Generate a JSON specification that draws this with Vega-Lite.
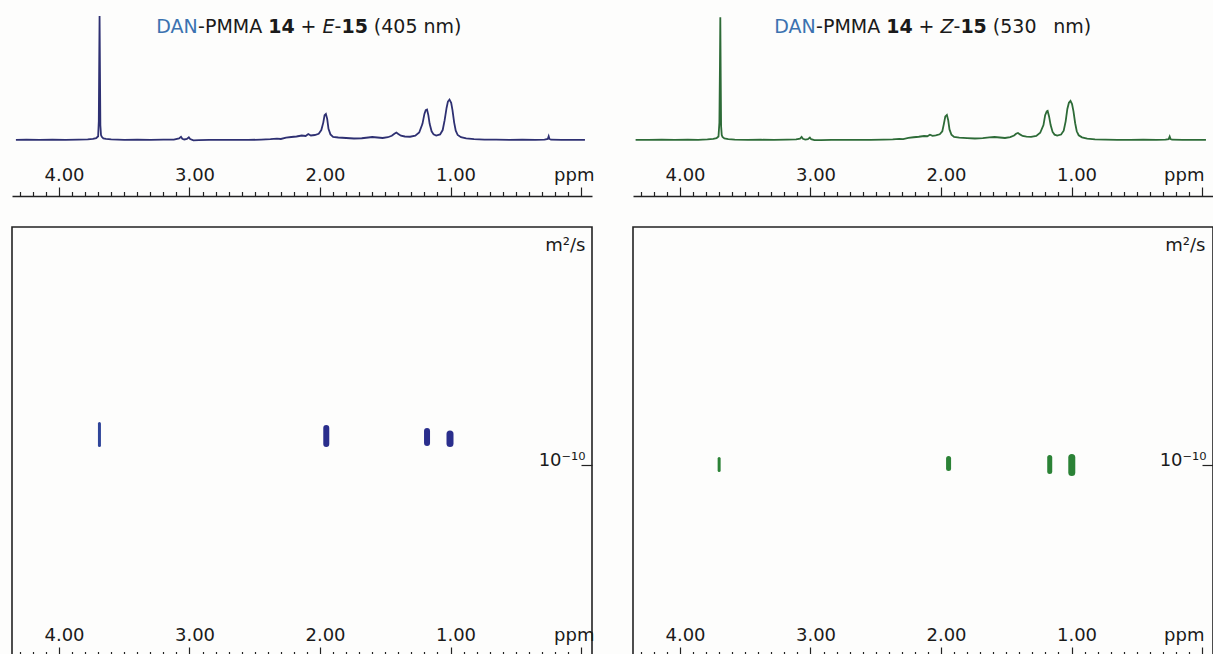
{
  "$schema": "https://vega.github.io/schema/vega-lite/v6.json",
  "background": "#fdfdfc",
  "padding": {"left": 11, "top": 0, "right": 0, "bottom": 0},
  "columns": 2,
  "spacing": {"row": 31, "column": 41},
  "bounds": "flush",
  "datasets": {
    "specL": [
      {"ppm":4.33,"intensity":0},{"ppm":4.25,"intensity":0.2},{"ppm":4.15,"intensity":0},{"ppm":4.05,"intensity":0.2},{"ppm":3.95,"intensity":0},{"ppm":3.85,"intensity":0.3},{"ppm":3.78,"intensity":0.4},{"ppm":3.74,"intensity":0.8},{"ppm":3.715,"intensity":1.5},{"ppm":3.70,"intensity":3},{"ppm":3.695,"intensity":15},{"ppm":3.692,"intensity":60},{"ppm":3.689,"intensity":100},{"ppm":3.686,"intensity":55},{"ppm":3.683,"intensity":12},{"ppm":3.678,"intensity":4},{"ppm":3.672,"intensity":2.5},{"ppm":3.66,"intensity":1.2},{"ppm":3.64,"intensity":0.8},{"ppm":3.60,"intensity":0.4},{"ppm":3.50,"intensity":0.1},{"ppm":3.40,"intensity":0.3},{"ppm":3.30,"intensity":0},{"ppm":3.20,"intensity":0.2},{"ppm":3.12,"intensity":0.3},{"ppm":3.08,"intensity":1.2},{"ppm":3.065,"intensity":2.6},{"ppm":3.055,"intensity":1.0},{"ppm":3.04,"intensity":0.4},{"ppm":3.02,"intensity":0.8},{"ppm":3.005,"intensity":2.2},{"ppm":2.995,"intensity":0.8},{"ppm":2.97,"intensity":-0.3},{"ppm":2.93,"intensity":-0.2},{"ppm":2.85,"intensity":0.1},{"ppm":2.75,"intensity":0},{"ppm":2.65,"intensity":0.1},{"ppm":2.55,"intensity":0},{"ppm":2.45,"intensity":0.3},{"ppm":2.38,"intensity":0.6},{"ppm":2.33,"intensity":1.0},{"ppm":2.30,"intensity":0.8},{"ppm":2.26,"intensity":1.8},{"ppm":2.22,"intensity":2.4},{"ppm":2.18,"intensity":2.8},{"ppm":2.14,"intensity":3.6},{"ppm":2.11,"intensity":3.2},{"ppm":2.09,"intensity":4.8},{"ppm":2.07,"intensity":3.6},{"ppm":2.04,"intensity":4.0},{"ppm":2.01,"intensity":5.0},{"ppm":1.99,"intensity":8},{"ppm":1.975,"intensity":14},{"ppm":1.965,"intensity":20},{"ppm":1.955,"intensity":21},{"ppm":1.945,"intensity":17},{"ppm":1.935,"intensity":9},{"ppm":1.92,"intensity":4.5},{"ppm":1.90,"intensity":2.5},{"ppm":1.86,"intensity":2.0},{"ppm":1.80,"intensity":1.6},{"ppm":1.74,"intensity":1.2},{"ppm":1.68,"intensity":1.4},{"ppm":1.63,"intensity":2.0},{"ppm":1.60,"intensity":2.4},{"ppm":1.56,"intensity":2.0},{"ppm":1.52,"intensity":1.6},{"ppm":1.48,"intensity":2.2},{"ppm":1.45,"intensity":3.4},{"ppm":1.43,"intensity":5.0},{"ppm":1.415,"intensity":6.0},{"ppm":1.40,"intensity":4.8},{"ppm":1.38,"intensity":3.4},{"ppm":1.35,"intensity":2.8},{"ppm":1.31,"intensity":2.6},{"ppm":1.27,"intensity":3.4},{"ppm":1.24,"intensity":6},{"ppm":1.215,"intensity":13},{"ppm":1.20,"intensity":21},{"ppm":1.19,"intensity":24},{"ppm":1.18,"intensity":24.5},{"ppm":1.17,"intensity":20},{"ppm":1.16,"intensity":13},{"ppm":1.145,"intensity":7},{"ppm":1.13,"intensity":4.5},{"ppm":1.11,"intensity":3.6},{"ppm":1.08,"intensity":4.5},{"ppm":1.06,"intensity":8},{"ppm":1.045,"intensity":16},{"ppm":1.03,"intensity":26},{"ppm":1.02,"intensity":31},{"ppm":1.008,"intensity":32.5},{"ppm":0.995,"intensity":30},{"ppm":0.985,"intensity":24},{"ppm":0.972,"intensity":14},{"ppm":0.96,"intensity":7.5},{"ppm":0.945,"intensity":4},{"ppm":0.92,"intensity":2.2},{"ppm":0.88,"intensity":1.2},{"ppm":0.82,"intensity":0.6},{"ppm":0.74,"intensity":0.3},{"ppm":0.65,"intensity":0.2},{"ppm":0.55,"intensity":0},{"ppm":0.45,"intensity":0.2},{"ppm":0.35,"intensity":0},{"ppm":0.28,"intensity":0.3},{"ppm":0.255,"intensity":0.8},{"ppm":0.248,"intensity":3},{"ppm":0.242,"intensity":0.8},{"ppm":0.23,"intensity":0.2},{"ppm":0.15,"intensity":0},{"ppm":0.05,"intensity":0.1},{"ppm":-0.03,"intensity":0}
    ],
    "specR": [
      {"ppm":4.34,"intensity":0},{"ppm":4.24,"intensity":0.1},{"ppm":4.14,"intensity":0.2},{"ppm":4.04,"intensity":0},{"ppm":3.94,"intensity":0.2},{"ppm":3.86,"intensity":0.1},{"ppm":3.79,"intensity":0.4},{"ppm":3.745,"intensity":0.8},{"ppm":3.72,"intensity":1.4},{"ppm":3.705,"intensity":2.8},{"ppm":3.698,"intensity":14},{"ppm":3.694,"intensity":58},{"ppm":3.691,"intensity":99},{"ppm":3.688,"intensity":52},{"ppm":3.685,"intensity":11},{"ppm":3.68,"intensity":4},{"ppm":3.674,"intensity":2.4},{"ppm":3.66,"intensity":1.2},{"ppm":3.63,"intensity":0.7},{"ppm":3.58,"intensity":0.3},{"ppm":3.48,"intensity":0.1},{"ppm":3.38,"intensity":0.2},{"ppm":3.28,"intensity":0},{"ppm":3.18,"intensity":0.2},{"ppm":3.11,"intensity":0.4},{"ppm":3.08,"intensity":1.0},{"ppm":3.068,"intensity":2.4},{"ppm":3.058,"intensity":0.9},{"ppm":3.04,"intensity":0.3},{"ppm":3.02,"intensity":0.7},{"ppm":3.005,"intensity":2.0},{"ppm":2.995,"intensity":0.6},{"ppm":2.97,"intensity":-0.2},{"ppm":2.92,"intensity":-0.1},{"ppm":2.84,"intensity":0.1},{"ppm":2.74,"intensity":0},{"ppm":2.64,"intensity":0.1},{"ppm":2.54,"intensity":0},{"ppm":2.44,"intensity":0.2},{"ppm":2.37,"intensity":0.5},{"ppm":2.32,"intensity":0.9},{"ppm":2.29,"intensity":0.7},{"ppm":2.25,"intensity":1.6},{"ppm":2.21,"intensity":2.2},{"ppm":2.17,"intensity":2.6},{"ppm":2.13,"intensity":3.2},{"ppm":2.105,"intensity":3.0},{"ppm":2.085,"intensity":4.2},{"ppm":2.065,"intensity":3.3},{"ppm":2.04,"intensity":3.7},{"ppm":2.01,"intensity":4.6},{"ppm":1.99,"intensity":7},{"ppm":1.978,"intensity":13},{"ppm":1.967,"intensity":19},{"ppm":1.955,"intensity":20.2},{"ppm":1.945,"intensity":16},{"ppm":1.935,"intensity":8.5},{"ppm":1.92,"intensity":4.2},{"ppm":1.90,"intensity":2.4},{"ppm":1.86,"intensity":1.9},{"ppm":1.80,"intensity":1.5},{"ppm":1.74,"intensity":1.2},{"ppm":1.68,"intensity":1.5},{"ppm":1.63,"intensity":2.1},{"ppm":1.59,"intensity":2.4},{"ppm":1.55,"intensity":2.0},{"ppm":1.51,"intensity":1.6},{"ppm":1.47,"intensity":2.3},{"ppm":1.44,"intensity":3.6},{"ppm":1.425,"intensity":5.0},{"ppm":1.41,"intensity":5.6},{"ppm":1.395,"intensity":4.5},{"ppm":1.375,"intensity":3.2},{"ppm":1.345,"intensity":2.7},{"ppm":1.31,"intensity":2.5},{"ppm":1.27,"intensity":3.3},{"ppm":1.24,"intensity":5.8},{"ppm":1.215,"intensity":12},{"ppm":1.202,"intensity":20},{"ppm":1.19,"intensity":23},{"ppm":1.183,"intensity":23.4},{"ppm":1.172,"intensity":19},{"ppm":1.16,"intensity":12},{"ppm":1.145,"intensity":6.5},{"ppm":1.13,"intensity":4.3},{"ppm":1.11,"intensity":3.5},{"ppm":1.08,"intensity":4.4},{"ppm":1.06,"intensity":7.5},{"ppm":1.045,"intensity":15},{"ppm":1.032,"intensity":25},{"ppm":1.02,"intensity":30},{"ppm":1.008,"intensity":31.5},{"ppm":0.996,"intensity":29},{"ppm":0.985,"intensity":23},{"ppm":0.972,"intensity":13.5},{"ppm":0.96,"intensity":7},{"ppm":0.945,"intensity":3.8},{"ppm":0.92,"intensity":2.1},{"ppm":0.88,"intensity":1.1},{"ppm":0.82,"intensity":0.5},{"ppm":0.74,"intensity":0.3},{"ppm":0.65,"intensity":0.1},{"ppm":0.55,"intensity":0},{"ppm":0.45,"intensity":0.2},{"ppm":0.35,"intensity":0},{"ppm":0.28,"intensity":0.2},{"ppm":0.256,"intensity":0.7},{"ppm":0.248,"intensity":2.8},{"ppm":0.241,"intensity":0.7},{"ppm":0.23,"intensity":0.2},{"ppm":0.15,"intensity":0},{"ppm":0.05,"intensity":0.1},{"ppm":-0.03,"intensity":0}
    ],
    "dosyL": [
      {"ppm":3.69,"d_high":1.563e-10,"d_low":1.234e-10},
      {"ppm":1.952,"d_high":1.489e-10,"d_low":1.254e-10},
      {"ppm":1.18,"d_high":1.442e-10,"d_low":1.268e-10},
      {"ppm":1.004,"d_high":1.396e-10,"d_low":1.262e-10}
    ],
    "dosyR": [
      {"ppm":3.70,"d_high":1.073e-10,"d_low":0.944e-10},
      {"ppm":1.942,"d_high":1.073e-10,"d_low":0.964e-10},
      {"ppm":1.167,"d_high":1.084e-10,"d_low":0.933e-10},
      {"ppm":0.998,"d_high":1.084e-10,"d_low":0.923e-10}
    ]
  },
  "concat": [
    {
      "width": 580, "height": 196,
      "view": {"stroke": null},
      "resolve": {"axis": {"x": "independent"}},
      "layer": [
        {
          "data": {"name": "specL"},
          "mark": {"type": "line", "color": "#2e3072", "strokeWidth": 1.8},
          "encoding": {
            "x": {"field": "ppm", "type": "quantitative", "scale": {"domain": [-0.084, 4.36], "reverse": true, "nice": false, "zero": false},
              "axis": {"orient": "bottom", "values": [4, 3, 2, 1, 0], "labelExpr": "datum.value == 0 ? '' : format(datum.value, '.2f')", "tickSize": -9, "labelPadding": -12, "labelBaseline": "middle", "labelAlign": "center", "labelOffset": 5, "labelFlush": false, "labelOverlap": false, "title": "ppm", "titleX": 582, "titleY": -21, "titleAlign": "right", "titleBaseline": "middle"}},
            "y": {"field": "intensity", "type": "quantitative", "scale": {"domain": [-45.2, 112.9], "nice": false, "zero": false}, "axis": null}
          }
        },
        {
          "data": {"values": [{}]},
          "mark": {"type": "point", "opacity": 0},
          "encoding": {
            "x": {"datum": 2, "type": "quantitative", "axis": {"orient": "bottom", "values": [4.3,4.2,4.1,3.9,3.8,3.7,3.6,3.5,3.4,3.3,3.2,3.1,2.9,2.8,2.7,2.6,2.5,2.4,2.3,2.2,2.1,1.9,1.8,1.7,1.6,1.5,1.4,1.3,1.2,1.1,0.9,0.8,0.7,0.6,0.5,0.4,0.3,0.2,0.1], "labels": false, "tickSize": -4.5, "domain": false, "title": null}}
          }
        },
        {"data": {"values": [{}]}, "mark": {"type": "text", "text": "DAN", "align": "left", "baseline": "alphabetic", "fontSize": 19, "color": "#3b72b0"}, "encoding": {"x": {"datum": 3.2544, "type": "quantitative", "axis": null}, "y": {"datum": 86, "type": "quantitative", "axis": null}}},
        {"data": {"values": [{}]}, "mark": {"type": "text", "text": "-PMMA", "align": "left", "baseline": "alphabetic", "fontSize": 19, "color": "#1a1a1a"}, "encoding": {"x": {"datum": 2.9341, "type": "quantitative", "axis": null}, "y": {"datum": 86, "type": "quantitative", "axis": null}}},
        {"data": {"values": [{}]}, "mark": {"type": "text", "text": "14", "align": "left", "baseline": "alphabetic", "fontSize": 19, "fontWeight": "bold", "color": "#1a1a1a"}, "encoding": {"x": {"datum": 2.3969, "type": "quantitative", "axis": null}, "y": {"datum": 86, "type": "quantitative", "axis": null}}},
        {"data": {"values": [{}]}, "mark": {"type": "text", "text": "+", "align": "left", "baseline": "alphabetic", "fontSize": 19, "color": "#1a1a1a"}, "encoding": {"x": {"datum": 2.1487, "type": "quantitative", "axis": null}, "y": {"datum": 86, "type": "quantitative", "axis": null}}},
        {"data": {"values": [{}]}, "mark": {"type": "text", "text": "E", "align": "left", "baseline": "alphabetic", "fontSize": 19, "fontStyle": "italic", "color": "#1a1a1a"}, "encoding": {"x": {"datum": 1.9808, "type": "quantitative", "axis": null}, "y": {"datum": 86, "type": "quantitative", "axis": null}}},
        {"data": {"values": [{}]}, "mark": {"type": "text", "text": "-", "align": "left", "baseline": "alphabetic", "fontSize": 19, "color": "#1a1a1a"}, "encoding": {"x": {"datum": 1.8889, "type": "quantitative", "axis": null}, "y": {"datum": 86, "type": "quantitative", "axis": null}}},
        {"data": {"values": [{}]}, "mark": {"type": "text", "text": "15", "align": "left", "baseline": "alphabetic", "fontSize": 19, "fontWeight": "bold", "color": "#1a1a1a"}, "encoding": {"x": {"datum": 1.836, "type": "quantitative", "axis": null}, "y": {"datum": 86, "type": "quantitative", "axis": null}}},
        {"data": {"values": [{}]}, "mark": {"type": "text", "text": "(405 nm)", "align": "left", "baseline": "alphabetic", "fontSize": 19, "color": "#1a1a1a"}, "encoding": {"x": {"datum": 1.5877, "type": "quantitative", "axis": null}, "y": {"datum": 86, "type": "quantitative", "axis": null}}}
      ]
    },
    {
      "width": 580, "height": 196,
      "view": {"stroke": null},
      "resolve": {"axis": {"x": "independent"}},
      "layer": [
        {
          "data": {"name": "specR"},
          "mark": {"type": "line", "color": "#2d6b37", "strokeWidth": 1.8},
          "encoding": {
            "x": {"field": "ppm", "type": "quantitative", "scale": {"domain": [-0.084, 4.36], "reverse": true, "nice": false, "zero": false},
              "axis": {"orient": "bottom", "values": [4, 3, 2, 1, 0], "labelExpr": "datum.value == 0 ? '' : format(datum.value, '.2f')", "tickSize": -9, "labelPadding": -12, "labelBaseline": "middle", "labelAlign": "center", "labelOffset": 5, "labelFlush": false, "labelOverlap": false, "title": "ppm", "titleX": 571, "titleY": -21, "titleAlign": "right", "titleBaseline": "middle"}},
            "y": {"field": "intensity", "type": "quantitative", "scale": {"domain": [-45.2, 112.9], "nice": false, "zero": false}, "axis": null}
          }
        },
        {
          "data": {"values": [{}]},
          "mark": {"type": "point", "opacity": 0},
          "encoding": {
            "x": {"datum": 2, "type": "quantitative", "axis": {"orient": "bottom", "values": [4.3,4.2,4.1,3.9,3.8,3.7,3.6,3.5,3.4,3.3,3.2,3.1,2.9,2.8,2.7,2.6,2.5,2.4,2.3,2.2,2.1,1.9,1.8,1.7,1.6,1.5,1.4,1.3,1.2,1.1,0.9,0.8,0.7,0.6,0.5,0.4,0.3,0.2,0.1], "labels": false, "tickSize": -4.5, "domain": false, "title": null}}
          }
        },
        {"data": {"values": [{}]}, "mark": {"type": "text", "text": "DAN", "align": "left", "baseline": "alphabetic", "fontSize": 19, "color": "#3b72b0"}, "encoding": {"x": {"datum": 3.2776, "type": "quantitative", "axis": null}, "y": {"datum": 86, "type": "quantitative", "axis": null}}},
        {"data": {"values": [{}]}, "mark": {"type": "text", "text": "-PMMA", "align": "left", "baseline": "alphabetic", "fontSize": 19, "color": "#1a1a1a"}, "encoding": {"x": {"datum": 2.9573, "type": "quantitative", "axis": null}, "y": {"datum": 86, "type": "quantitative", "axis": null}}},
        {"data": {"values": [{}]}, "mark": {"type": "text", "text": "14", "align": "left", "baseline": "alphabetic", "fontSize": 19, "fontWeight": "bold", "color": "#1a1a1a"}, "encoding": {"x": {"datum": 2.4201, "type": "quantitative", "axis": null}, "y": {"datum": 86, "type": "quantitative", "axis": null}}},
        {"data": {"values": [{}]}, "mark": {"type": "text", "text": "+", "align": "left", "baseline": "alphabetic", "fontSize": 19, "color": "#1a1a1a"}, "encoding": {"x": {"datum": 2.1719, "type": "quantitative", "axis": null}, "y": {"datum": 86, "type": "quantitative", "axis": null}}},
        {"data": {"values": [{}]}, "mark": {"type": "text", "text": "Z", "align": "left", "baseline": "alphabetic", "fontSize": 19, "fontStyle": "italic", "color": "#1a1a1a"}, "encoding": {"x": {"datum": 2.004, "type": "quantitative", "axis": null}, "y": {"datum": 86, "type": "quantitative", "axis": null}}},
        {"data": {"values": [{}]}, "mark": {"type": "text", "text": "-", "align": "left", "baseline": "alphabetic", "fontSize": 19, "color": "#1a1a1a"}, "encoding": {"x": {"datum": 1.9044, "type": "quantitative", "axis": null}, "y": {"datum": 86, "type": "quantitative", "axis": null}}},
        {"data": {"values": [{}]}, "mark": {"type": "text", "text": "15", "align": "left", "baseline": "alphabetic", "fontSize": 19, "fontWeight": "bold", "color": "#1a1a1a"}, "encoding": {"x": {"datum": 1.8515, "type": "quantitative", "axis": null}, "y": {"datum": 86, "type": "quantitative", "axis": null}}},
        {"data": {"values": [{}]}, "mark": {"type": "text", "text": "(530", "align": "left", "baseline": "alphabetic", "fontSize": 19, "color": "#1a1a1a"}, "encoding": {"x": {"datum": 1.6032, "type": "quantitative", "axis": null}, "y": {"datum": 86, "type": "quantitative", "axis": null}}},
        {"data": {"values": [{}]}, "mark": {"type": "text", "text": "nm)", "align": "left", "baseline": "alphabetic", "fontSize": 19, "color": "#1a1a1a"}, "encoding": {"x": {"datum": 1.14, "type": "quantitative", "axis": null}, "y": {"datum": 86, "type": "quantitative", "axis": null}}}
      ]
    },
    {
      "width": 580, "height": 429,
      "view": {"stroke": "#222222", "strokeWidth": 1.6},
      "resolve": {"axis": {"x": "independent"}},
      "layer": [
        {
          "data": {"name": "dosyL"},
          "mark": {"type": "rule", "strokeCap": "round"},
          "encoding": {
            "x": {"field": "ppm", "type": "quantitative", "scale": {"domain": [-0.084, 4.36], "reverse": true, "nice": false, "zero": false},
              "axis": {"orient": "bottom", "values": [4, 3, 2, 1, 0], "labelExpr": "datum.value == 0 ? '' : format(datum.value, '.2f')", "tickSize": -9, "labelPadding": -12, "labelBaseline": "middle", "labelAlign": "center", "labelOffset": 5, "labelFlush": false, "labelOverlap": false, "title": "ppm", "titleX": 582, "titleY": -21, "titleAlign": "right", "titleBaseline": "middle"}},
            "y": {"field": "d_high", "type": "quantitative", "scale": {"type": "log", "domain": [1.2882e-11, 1.2882e-9], "nice": false},
              "axis": {"orient": "right", "values": [1e-10], "labelExpr": "'10⁻¹⁰'", "tickSize": -11, "labelPadding": 4, "labelAlign": "right", "labelBaseline": "alphabetic", "domain": false, "title": "m²/s", "titleAngle": 0, "titleX": -7, "titleY": 18, "titleAlign": "right", "titleBaseline": "middle"}},
            "y2": {"field": "d_low"},
            "color": {"condition": {"test": "datum.ppm > 3", "value": "#2f4599"}, "value": "#2a2e8c"},
            "strokeWidth": {"condition": [{"test": "datum.ppm > 3", "value": 3}, {"test": "datum.ppm < 1.1", "value": 7}], "value": 6}
          }
        },
        {
          "data": {"values": [{}]},
          "mark": {"type": "point", "opacity": 0},
          "encoding": {
            "x": {"datum": 2, "type": "quantitative", "axis": {"orient": "bottom", "values": [4.3,4.2,4.1,3.9,3.8,3.7,3.6,3.5,3.4,3.3,3.2,3.1,2.9,2.8,2.7,2.6,2.5,2.4,2.3,2.2,2.1,1.9,1.8,1.7,1.6,1.5,1.4,1.3,1.2,1.1,0.9,0.8,0.7,0.6,0.5,0.4,0.3,0.2,0.1], "labels": false, "tickSize": -4.5, "domain": false, "title": null}}
          }
        }
      ]
    },
    {
      "width": 580, "height": 429,
      "view": {"stroke": "#222222", "strokeWidth": 1.6},
      "resolve": {"axis": {"x": "independent"}},
      "layer": [
        {
          "data": {"name": "dosyR"},
          "mark": {"type": "rule", "strokeCap": "round"},
          "encoding": {
            "x": {"field": "ppm", "type": "quantitative", "scale": {"domain": [-0.084, 4.36], "reverse": true, "nice": false, "zero": false},
              "axis": {"orient": "bottom", "values": [4, 3, 2, 1, 0], "labelExpr": "datum.value == 0 ? '' : format(datum.value, '.2f')", "tickSize": -9, "labelPadding": -12, "labelBaseline": "middle", "labelAlign": "center", "labelOffset": 5, "labelFlush": false, "labelOverlap": false, "title": "ppm", "titleX": 571, "titleY": -21, "titleAlign": "right", "titleBaseline": "middle"}},
            "y": {"field": "d_high", "type": "quantitative", "scale": {"type": "log", "domain": [1.2882e-11, 1.2882e-9], "nice": false},
              "axis": {"orient": "right", "values": [1e-10], "labelExpr": "'10⁻¹⁰'", "tickSize": -11, "labelPadding": 4, "labelAlign": "right", "labelBaseline": "alphabetic", "domain": false, "title": "m²/s", "titleAngle": 0, "titleX": -8, "titleY": 18, "titleAlign": "right", "titleBaseline": "middle"}},
            "y2": {"field": "d_low"},
            "color": {"value": "#2b8236"},
            "strokeWidth": {"condition": [{"test": "datum.ppm > 3", "value": 3}, {"test": "datum.ppm < 1.1", "value": 7}], "value": 5}
          }
        },
        {
          "data": {"values": [{}]},
          "mark": {"type": "point", "opacity": 0},
          "encoding": {
            "x": {"datum": 2, "type": "quantitative", "axis": {"orient": "bottom", "values": [4.3,4.2,4.1,3.9,3.8,3.7,3.6,3.5,3.4,3.3,3.2,3.1,2.9,2.8,2.7,2.6,2.5,2.4,2.3,2.2,2.1,1.9,1.8,1.7,1.6,1.5,1.4,1.3,1.2,1.1,0.9,0.8,0.7,0.6,0.5,0.4,0.3,0.2,0.1], "labels": false, "tickSize": -4.5, "domain": false, "title": null}}
          }
        }
      ]
    }
  ],
  "config": {
    "font": "DejaVu Sans",
    "view": {"stroke": null},
    "text": {"font": "DejaVu Sans"},
    "axis": {
      "labelFont": "DejaVu Sans", "labelFontSize": 18, "labelColor": "#1a1a1a",
      "titleFont": "DejaVu Sans", "titleFontSize": 18, "titleFontWeight": "normal", "titleColor": "#1a1a1a",
      "domainColor": "#222222", "domainWidth": 1.5, "tickColor": "#222222", "tickWidth": 1.2, "grid": false
    }
  }
}
